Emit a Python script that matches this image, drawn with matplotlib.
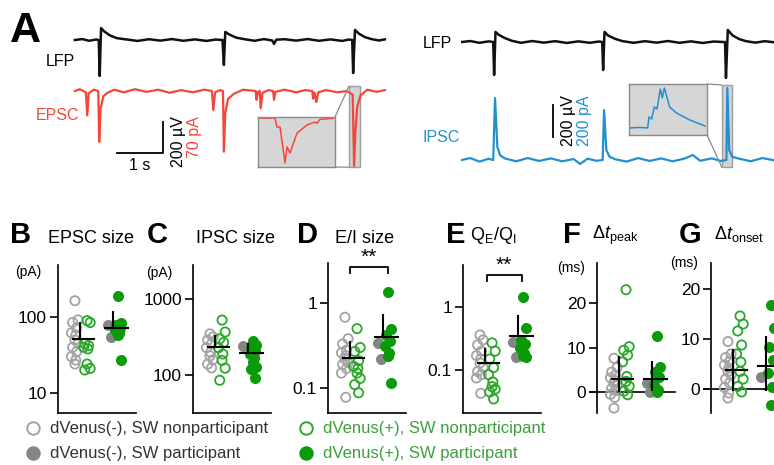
import matplotlib
matplotlib.use("Agg")
import matplotlib.pyplot as plt
from matplotlib.lines import Line2D
from matplotlib.patches import Rectangle, ConnectionPatch
from matplotlib.ticker import NullLocator

W, H = 774, 465

plt.rcParams['font.family'] = ['Liberation Sans', 'DejaVu Sans']
plt.rcParams['mathtext.fontset'] = 'custom'
plt.rcParams['mathtext.rm'] = 'Liberation Sans'
plt.rcParams['mathtext.it'] = 'Liberation Sans:italic'
plt.rcParams['mathtext.bf'] = 'Liberation Sans:bold'

RED = '#f5463a'
BLUE = '#2190cf'
TRACE_K = '#111111'
GRAY_OPEN = '#a3a3a3'
GRAY_FILL = '#858585'
GREEN_OPEN = '#2aa82a'
GREEN_FILL = '#0a9a0a'
GREEN_TEXT = '#3aa13a'

# ---- panel A traces (time in s, LFP in uV, currents in pA) ----
lfp_left_t = [0.04, 0.2, 0.35, 0.5, 0.56, 0.58, 0.61, 0.68, 0.8, 0.95, 1.15, 1.4, 1.65, 1.9, 2.15,
              2.4, 2.65, 2.9, 3.1, 3.25, 3.28, 3.31, 3.4, 3.55, 3.75, 3.95, 4.15, 4.33, 4.37, 4.42,
              4.6, 4.85, 5.1, 5.35, 5.6, 5.85, 6.0, 6.07, 6.09, 6.13, 6.22, 6.35, 6.5, 6.65, 6.78]
lfp_left_v = [0, 6, -5, 3, 0, -232, 77, 55, 30, 12, 4, -6, 5, -4, 6,
              -5, 4, -6, 3, 0, -161, 52, 35, 15, 4, -5, 6, -3, -25, 2,
              5, -4, 6, -5, 4, -6, 3, 0, -213, 65, 40, 18, 5, -3, 4]

epsc_t = [0.04, 0.15, 0.28, 0.31, 0.34, 0.45, 0.55, 0.57, 0.6, 0.66, 0.75, 0.9, 1.1, 1.35, 1.6,
          1.85, 2.1, 2.35, 2.6, 2.85, 3.02, 3.05, 3.09, 3.2, 3.26, 3.28, 3.31, 3.37, 3.5, 3.7,
          3.97, 3.99, 4.02, 4.06, 4.08, 4.12, 4.25, 4.35, 4.37, 4.4, 4.6, 4.85, 5.05, 5.2, 5.22,
          5.25, 5.29, 5.33, 5.5, 5.75, 5.95, 6.08, 6.11, 6.14, 6.18, 6.25, 6.4, 6.6, 6.78]
epsc_v = [0, 4, -3, -55, -5, 3, 0, -115, -40, -12, -4, 3, -3, 4, -2,
          3, -4, 2, -3, 3, 0, -43, -3, 2, 0, -137, -50, -18, -6, 3,
          0, -20, -2, 0, -39, -4, 2, 0, -20, -2, 3, -3, 2, 0, -17,
          -3, -25, -3, 2, -3, 0, -8, -169, -90, -35, -10, 3, -2, 2]

lfp_right_t = [0.02, 0.2, 0.4, 0.6, 0.7, 0.72, 0.75, 0.82, 0.95, 1.1, 1.3, 1.55, 1.8, 2.05, 2.3,
               2.55, 2.8, 3.0, 3.07, 3.09, 3.12, 3.2, 3.35, 3.5, 3.75, 4.0, 4.25, 4.5, 4.75, 5.0,
               5.25, 5.5, 5.7, 5.74, 5.76, 5.8, 5.9, 6.05, 6.2, 6.4, 6.6, 6.85]
lfp_right_v = [0, 6, -5, 4, 0, -206, 63, 45, 25, 8, -5, 6, -4, 5, -6,
               4, -5, 3, 0, -175, 63, 40, 20, 6, -5, 5, -4, 6, -5, 4,
               -6, 3, 0, 0, -225, 75, 42, 18, 5, -4, 5, -3]

ipsc_t = [0.02, 0.2, 0.4, 0.6, 0.7, 0.74, 0.79, 0.85, 0.95, 1.2, 1.45, 1.7, 1.95, 2.2, 2.45,
          2.59, 2.75, 2.95, 3.08, 3.11, 3.16, 3.23, 3.35, 3.6, 3.85, 4.1, 4.35, 4.6, 4.85, 5.04,
          5.2, 5.45, 5.65, 5.77, 5.79, 5.83, 5.9, 6.05, 6.3, 6.55, 6.85]
ipsc_v = [0, 12, -10, 8, 0, 387, 81, 30, 10, -8, 12, -6, 10, -8, 6,
          -25, 8, -5, 0, 312, 62, 20, 5, -10, 12, -6, 10, -8, 8, 31,
          -5, 10, -6, 0, 450, 62, 20, 8, -8, 12, -4]

# insets (time in ms, current in pA)
epsc_inset_t = [3, 25.5, 28.5, 33, 40.5, 43.5, 48, 58.5, 73.5, 85.5, 88.5, 93, 112.5]
epsc_inset_v = [0, 0, -34, -34, -170, -109, -132, -57, -26, -15, -20, -5, -1]
ipsc_inset_t = [1.5, 15, 28, 30, 34, 38, 42, 47, 50, 53, 61, 71, 91, 114]
ipsc_inset_v = [0, 6, 0, 124, 101, 236, 214, 438, 337, 450, 236, 169, 90, 22]

# ---- panels B-G: group values ----
b_gray_open = [165, 92, 85, 72, 62, 58, 50, 45, 40, 35, 30, 27, 24]
b_green_open = [90, 85, 45, 42, 40, 38, 24, 21, 20]
b_gray_fill = [80, 55]
b_green_fill = [190, 85, 78, 72, 68, 62, 58, 27]
b_mean, b_lo, b_hi = [51, 73], [51, 73], [83, 116]

c_gray_open = [350, 320, 290, 260, 230, 200, 180, 160, 140, 125]
c_green_open = [530, 370, 300, 270, 230, 190, 157, 124, 86]
c_gray_fill = [240]
c_green_fill = [280, 250, 230, 210, 190, 170, 150, 130, 120, 91]
c_mean, c_lo, c_hi = [233, 195], [233, 195], [325, 255]

d_gray_open = [0.68, 0.38, 0.33, 0.28, 0.26, 0.24, 0.22, 0.2, 0.19, 0.17, 0.15, 0.078]
d_green_open = [0.5, 0.3, 0.27, 0.21, 0.18, 0.17, 0.15, 0.13, 0.11, 0.088]
d_gray_fill = [0.34, 0.22]
d_green_fill = [1.35, 0.5, 0.42, 0.36, 0.31, 0.26, 0.24, 0.115]
d_mean, d_lo, d_hi = [0.225, 0.4], [0.225, 0.4], [0.35, 0.72]

e_gray_open = [0.36, 0.3, 0.25, 0.2, 0.17, 0.15, 0.13, 0.11, 0.095, 0.085, 0.075, 0.043]
e_green_open = [0.27, 0.2, 0.15, 0.11, 0.085, 0.065, 0.055, 0.05, 0.045, 0.035]
e_gray_fill = [0.28, 0.16]
e_green_fill = [1.45, 0.47, 0.3, 0.26, 0.22, 0.19, 0.17, 0.16]
e_mean, e_lo, e_hi = [0.13, 0.35], [0.13, 0.35], [0.215, 0.72]

f_gray_open = [7.6, 5.5, 4.5, 3.8, 3.2, 2.6, 2.0, 1.4, 0.8, 0.3, -0.5, -1.2, -3.6]
f_green_open = [23, 10.2, 9.4, 8.3, 6.8, 3.5, 2.4, 1.3, 0.2, -0.6]
f_gray_fill = [2.0, 0.0]
f_green_fill = [12.5, 5.6, 4.4, 3.3, 1.5, 0.5, 0.0]
f_mean, f_lo, f_hi = [2.9, 2.9], [0.3, 0.4], [7.9, 6.7]

g_gray_open = [9.5, 7.0, 6.3, 5.5, 4.8, 4.2, 3.5, 2.8, 2.0, 1.2, 0.3, -0.8, -1.8]
g_green_open = [14.6, 13.0, 11.6, 8.8, 7.0, 5.4, 3.5, 2.0, 0.5, -0.6]
g_gray_fill = [2.4]
g_green_fill = [16.8, 12.2, 8.4, 5.8, 3.2, 0.4, -3.2]
g_mean, g_lo, g_hi = [3.8, 4.6], [-0.2, -0.2], [7.8, 10.4]

legend_labels = ['dVenus(-), SW nonparticipant', 'dVenus(-), SW participant',
                 'dVenus(+), SW nonparticipant', 'dVenus(+), SW participant']


def px_rect(x0, y0, x1, y1):
    return [x0 / W, 1 - y1 / H, (x1 - x0) / W, (y1 - y0) / H]


def fx(x):
    return x / W


def fy(y):
    return 1 - y / H


fig = plt.figure(figsize=(W / 100, H / 100), dpi=100)


def trace_axes(x0, x1, y0, y1, px_per_s, base_y, px_per_unit):
    ax = fig.add_axes(px_rect(x0, y0, x1, y1))
    ax.set_xlim(0, (x1 - x0) / px_per_s)
    ax.set_ylim((base_y - y1) / px_per_unit, (base_y - y0) / px_per_unit)
    ax.axis('off')
    return ax


def inset_axes(rect, xlim, ylim):
    ax = fig.add_axes(px_rect(*rect))
    ax.set_facecolor('#d6d6d6')
    ax.set_xlim(*xlim)
    ax.set_ylim(*ylim)
    ax.set_xticks([])
    ax.set_yticks([])
    for sp in ax.spines.values():
        sp.set_color('#8a8a8a')
        sp.set_linewidth(1.0)
    return ax


# ---- A, left: LFP + EPSC ----
ax_lfp_l = trace_axes(73, 400, 15, 80, 46, 40, 0.155)
ax_lfp_l.plot(lfp_left_t, lfp_left_v, color=TRACE_K, lw=1.8)
ax_epsc = trace_axes(73, 400, 80, 180, 46, 91, 0.443)
ax_epsc.plot(epsc_t, epsc_v, color=RED, lw=1.6, zorder=3)
ax_epsc.add_patch(Rectangle((6.0, -172), 0.24, 183, fc='#c8c8c8', ec='#8a8a8a', lw=1, alpha=0.8, zorder=1))
# scale bar: 1 s, 70 pA
ax_epsc.plot([0.96, 1.96, 1.96], [-140, -140, -70], color='k', lw=1.3)

ax_in_l = inset_axes((258, 117, 335, 167), (0, 115.5), (-185, 4))
ax_in_l.plot(epsc_inset_t, epsc_inset_v, color=RED, lw=1.1)
for yA, yB in [(11, 1), (-172, 0)]:
    fig.add_artist(ConnectionPatch(xyA=(6.0, yA), coordsA=ax_epsc.transData,
                                   xyB=(1, yB), coordsB=ax_in_l.transAxes,
                                   color='#8a8a8a', lw=0.9))

fig.text(fx(10), fy(42), 'A', fontsize=31, fontweight='bold', va='baseline')
fig.text(fx(46), fy(62), 'LFP', fontsize=11.5, va='center')
fig.text(fx(36), fy(115), 'EPSC', fontsize=11.5, va='center', color=RED)
fig.text(fx(140), fy(166), '1 s', fontsize=11.5, ha='center', va='center')
fig.text(fx(178), fy(116), '200 µV', fontsize=11.5, rotation=90, ha='center', va='top')
fig.text(fx(195), fy(116), '70 pA', fontsize=11.5, rotation=90, ha='center', va='top', color=RED)

# ---- A, right: LFP + IPSC ----
ax_lfp_r = trace_axes(461, 800, 15, 80, 46, 42, 0.16)
ax_lfp_r.plot(lfp_right_t, lfp_right_v, color=TRACE_K, lw=1.8)
ax_ipsc = trace_axes(461, 800, 80, 180, 46, 160, 0.16)
ax_ipsc.plot(ipsc_t, ipsc_v, color=BLUE, lw=1.6, zorder=3)
ax_ipsc.add_patch(Rectangle((5.67, -44), 0.22, 513, fc='#c8c8c8', ec='#8a8a8a', lw=1, alpha=0.8, zorder=1))
# scale bar: 200 uV / 200 pA
ax_ipsc.plot([2.0, 2.0], [144, 344], color='k', lw=1.3)

ax_in_r = inset_axes((629, 84, 707, 135), (0, 117), (-79, 494))
ax_in_r.plot(ipsc_inset_t, ipsc_inset_v, color=BLUE, lw=1.1)
for yA, yB in [(469, 1), (-44, 0)]:
    fig.add_artist(ConnectionPatch(xyA=(5.67, yA), coordsA=ax_ipsc.transData,
                                   xyB=(1, yB), coordsB=ax_in_r.transAxes,
                                   color='#8a8a8a', lw=0.9))

fig.text(fx(423), fy(43), 'LFP', fontsize=11.5, va='center')
fig.text(fx(423), fy(137), 'IPSC', fontsize=11.5, va='center', color=BLUE)
fig.text(fx(569), fy(95), '200 µV', fontsize=11.5, rotation=90, ha='center', va='top')
fig.text(fx(585), fy(95), '200 pA', fontsize=11.5, rotation=90, ha='center', va='top', color=BLUE)

# ---- B-G scatter panels ----
X_GRAY_OPEN, X_GREEN_OPEN, X_GRAY_FILL, X_GREEN_FILL = 0.87, 1.49, 2.56, 3.08
X_ERR = [1.13, 2.82]
X_SPAN = [(0.75, 1.85), (2.4, 3.6)]
JIT = [0, 0.16, -0.12, 0.08, -0.18, 0.04]


def group(ax, vals, xc, fc, ec):
    xs = [xc + JIT[i % len(JIT)] for i in range(len(vals))]
    ax.scatter(xs, vals, s=44, facecolors=fc, edgecolors=ec, linewidths=1.3, zorder=3, clip_on=False)


panels = [
    dict(rect=(58, 265, 136, 413), log=True, ylim=(5.4, 490), ticks=[10, 100], tl=['10', '100'],
         data=(b_gray_open, b_green_open, b_gray_fill, b_green_fill), m=(b_mean, b_lo, b_hi)),
    dict(rect=(193, 265, 271, 413), log=True, ylim=(32, 2800), ticks=[100, 1000], tl=['100', '1000'],
         data=(c_gray_open, c_green_open, c_gray_fill, c_green_fill), m=(c_mean, c_lo, c_hi)),
    dict(rect=(328, 263, 406, 413), log=True, ylim=(0.051, 2.95), ticks=[0.1, 1], tl=['0.1', '1'],
         data=(d_gray_open, d_green_open, d_gray_fill, d_green_fill), m=(d_mean, d_lo, d_hi)),
    dict(rect=(463, 265, 541, 413), log=True, ylim=(0.021, 4.6), ticks=[0.1, 1], tl=['0.1', '1'],
         data=(e_gray_open, e_green_open, e_gray_fill, e_green_fill), m=(e_mean, e_lo, e_hi)),
    dict(rect=(597, 263, 675, 413), log=False, ylim=(-4.7, 29), ticks=[0, 10, 20], tl=['0', '10', '20'],
         data=(f_gray_open, f_green_open, f_gray_fill, f_green_fill), m=(f_mean, f_lo, f_hi)),
    dict(rect=(711, 263, 789, 413), log=False, ylim=(-4.8, 25.2), ticks=[0, 10, 20], tl=['0', '10', '20'],
         data=(g_gray_open, g_green_open, g_gray_fill, g_green_fill), m=(g_mean, g_lo, g_hi)),
]

axes = []
for p in panels:
    ax = fig.add_axes(px_rect(*p['rect']))
    if p['log']:
        ax.set_yscale('log')
    ax.set_xlim(0, 4)
    ax.set_ylim(*p['ylim'])
    ax.set_yticks(p['ticks'])
    ax.set_yticklabels(p['tl'])
    ax.yaxis.set_minor_locator(NullLocator())
    ax.set_xticks([])
    ax.tick_params(axis='y', length=6, width=1.2, labelsize=12.5, pad=2)
    ax.spines['top'].set_visible(False)
    ax.spines['right'].set_visible(False)
    ax.spines['left'].set_linewidth(1.2)
    ax.spines['bottom'].set_linewidth(1.2)
    ax.patch.set_alpha(0)
    if not p['log']:
        ax.spines['bottom'].set_visible(False)
        ax.axhline(0, xmin=-0.09, xmax=1.0, color='k', lw=1.2, clip_on=False, zorder=2)

    go, gro, gf, grf = p['data']
    group(ax, go, X_GRAY_OPEN, 'none', GRAY_OPEN)
    group(ax, gro, X_GREEN_OPEN, 'none', GREEN_OPEN)
    group(ax, gf, X_GRAY_FILL, GRAY_FILL, GRAY_FILL)
    group(ax, grf, X_GREEN_FILL, GREEN_FILL, GREEN_FILL)

    mean, lo, hi = p['m']
    for k in range(2):
        ax.plot(X_SPAN[k], [mean[k], mean[k]], color='k', lw=1.5, zorder=4)
        ax.plot([X_ERR[k], X_ERR[k]], [lo[k], hi[k]], color='k', lw=1.5, zorder=4)
    axes.append(ax)

# significance brackets
for ax, x0, x1, ylo, yhi in [(axes[2], 1.13, 3.08, 2.25, 2.65), (axes[3], 1.23, 3.0, 2.6, 3.2)]:
    ax.plot([x0, x0, x1, x1], [ylo, yhi, yhi, ylo], color='k', lw=1.3, clip_on=False)
    ax.text((x0 + x1) / 2, yhi, '**', ha='center', va='bottom', fontsize=15, clip_on=False)

# panel titles
titles = [(10, 'B', 48, 'EPSC size', 243), (147, 'C', 196, 'IPSC size', 243),
          (297, 'D', 335, 'E/I size', 243), (446, 'E', 470, r'$\mathregular{Q_E/Q_I}$', 240),
          (563, 'F', 592, r'$\Delta\mathit{t}_\mathregular{peak}$', 239),
          (679, 'G', 714, r'$\Delta\mathit{t}_\mathregular{onset}$', 239)]
for lx, letter, tx, txt, ty in titles:
    fig.text(fx(lx), fy(243), letter, fontsize=21, fontweight='bold', va='baseline')
    fig.text(fx(tx), fy(ty), txt, fontsize=13, va='baseline')

for x, y, unit in [(15, 272, '(pA)'), (146, 273, '(pA)'), (557, 268, '(ms)'), (670, 263, '(ms)')]:
    fig.text(fx(x), fy(y), unit, fontsize=10, va='center')

# legend
leg = [(33, 428, 'none', GRAY_OPEN, '#333333'), (33, 453, GRAY_FILL, GRAY_FILL, '#333333'),
       (306, 428, 'none', GREEN_OPEN, GREEN_TEXT), (306, 453, GREEN_FILL, GREEN_FILL, GREEN_TEXT)]
for (x, y, fc, ec, tc), label in zip(leg, legend_labels):
    fig.add_artist(Line2D([fx(x)], [fy(y)], marker='o', ms=9, mfc=fc, mec=ec, mew=1.4,
                          transform=fig.transFigure))
    fig.text(fx(x + 17), fy(y), label, fontsize=12, va='center', color=tc)

fig.savefig('out.png', dpi=100)
